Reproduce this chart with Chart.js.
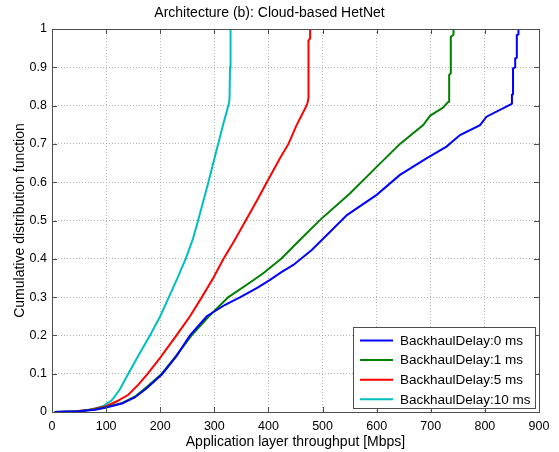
<!DOCTYPE html>
<html>
<head>
<meta charset="utf-8">
<script src="https://cdn.jsdelivr.net/npm/chart.js@4/dist/chart.umd.min.js"></script>
<style>
  html, body { margin: 0; padding: 0; background: #ffffff; }
  #wrap { width: 559px; height: 452px; position: relative; }
</style>
</head>
<body>
<div id="wrap"><canvas id="cdf"></canvas></div>
<script>
// Empirical CDFs of application-layer throughput (Mbps) per backhaul delay
const labels = ['BackhaulDelay:0 ms', 'BackhaulDelay:1 ms', 'BackhaulDelay:5 ms', 'BackhaulDelay:10 ms'];
const colors = ['#0000ff', '#008000', '#ff0000', '#00bfbf'];

const thr0 = [5, 50, 80, 100, 129, 153, 175, 203, 230, 255, 286, 320, 348, 380, 403, 424, 446, 480, 508, 545, 600, 643, 692, 729, 754, 791, 803, 846, 850, 850, 852, 852, 856, 856, 859, 859, 862, 862];
const cdf0 = [0, 0.002, 0.006, 0.012, 0.022, 0.038, 0.062, 0.098, 0.146, 0.20, 0.25, 0.28, 0.30, 0.325, 0.345, 0.365, 0.384, 0.423, 0.462, 0.514, 0.567, 0.619, 0.662, 0.693, 0.723, 0.749, 0.771, 0.802, 0.805, 0.828, 0.83, 0.897, 0.90, 0.923, 0.925, 0.984, 0.986, 1];

const thr1 = [5, 50, 80, 100, 129, 153, 175, 203, 230, 258, 290, 308, 326, 366, 391, 424, 458, 495, 551, 600, 643, 686, 699, 723, 732, 734, 734, 737, 737, 742, 742, 746];
const cdf1 = [0, 0.002, 0.007, 0.013, 0.023, 0.04, 0.065, 0.10, 0.148, 0.20, 0.25, 0.275, 0.30, 0.338, 0.363, 0.401, 0.449, 0.501, 0.571, 0.64, 0.70, 0.749, 0.774, 0.795, 0.809, 0.81, 0.88, 0.885, 0.98, 0.985, 1, 1];

const thr5 = [5, 40, 70, 100, 120, 141, 160, 177, 200, 230, 255, 277, 298, 317, 338, 358, 378, 397, 421, 437, 452, 468, 472, 474, 474, 477, 477, 500];
const cdf5 = [0, 0.001, 0.006, 0.015, 0.028, 0.045, 0.072, 0.10, 0.142, 0.20, 0.25, 0.30, 0.35, 0.40, 0.45, 0.50, 0.55, 0.60, 0.662, 0.70, 0.749, 0.793, 0.806, 0.82, 0.97, 0.975, 1, 1];

const thr10 = [5, 40, 60, 80, 95, 110, 125, 141, 160, 181, 200, 216, 232, 247, 260, 270, 289, 307, 318, 326, 328, 329, 330];
const cdf10 = [0, 0.001, 0.004, 0.009, 0.016, 0.03, 0.058, 0.10, 0.148, 0.20, 0.25, 0.30, 0.35, 0.40, 0.45, 0.50, 0.60, 0.70, 0.76, 0.80, 0.815, 0.90, 1];

const xTicks = [0, 100, 200, 300, 400, 500, 600, 700, 800, 900];
const yTicks = [0, 0.1, 0.2, 0.3, 0.4, 0.5, 0.6, 0.7, 0.8, 0.9, 1];

const series = [[thr0, cdf0], [thr1, cdf1], [thr5, cdf5], [thr10, cdf10]];
const toPoints = (xs, ys) => xs.map((x, i) => ({ x: x, y: ys[i] }));

const FONT = 'Liberation Sans, Arial, Helvetica, sans-serif';
const BOX = '#4d4d4d';

// Full axes box, inward tick marks on all four sides and the in-plot legend
const framePlugin = {
  id: 'frame',
  afterDraw(chart) {
    const { ctx, chartArea: a, scales } = chart;
    const tl = 5;
    ctx.save();
    ctx.strokeStyle = BOX;
    ctx.lineWidth = 1;
    ctx.beginPath();
    scales.x.ticks.forEach(t => {
      const px = Math.round(scales.x.getPixelForValue(t.value)) + 0.5;
      ctx.moveTo(px, a.bottom); ctx.lineTo(px, a.bottom - tl);
      ctx.moveTo(px, a.top); ctx.lineTo(px, a.top + tl);
    });
    scales.y.ticks.forEach(t => {
      const py = Math.round(scales.y.getPixelForValue(t.value)) + 0.5;
      ctx.moveTo(a.left, py); ctx.lineTo(a.left + tl, py);
      ctx.moveTo(a.right, py); ctx.lineTo(a.right - tl, py);
    });
    ctx.stroke();
    ctx.strokeRect(Math.round(a.left) + 0.5, Math.round(a.top) + 0.5,
                   Math.round(a.right - a.left), Math.round(a.bottom - a.top));

    // legend (lower right, inside the axes)
    const lw = 182, rowH = 19.6, lh = 81;
    const lx = a.right - 4 - lw, ly = a.bottom - 4 - lh;
    ctx.fillStyle = '#ffffff';
    ctx.fillRect(lx, ly, lw, lh);
    ctx.strokeStyle = BOX;
    ctx.strokeRect(Math.round(lx) + 0.5, Math.round(ly) + 0.5, lw, lh);
    ctx.font = '13.5px ' + FONT;
    ctx.textBaseline = 'middle';
    ctx.textAlign = 'left';
    chart.data.datasets.forEach((ds, i) => {
      const cy = ly + 13.5 + i * rowH;
      ctx.strokeStyle = ds.borderColor;
      ctx.lineWidth = 2;
      ctx.beginPath();
      ctx.moveTo(lx + 7, cy); ctx.lineTo(lx + 40, cy);
      ctx.stroke();
      ctx.fillStyle = '#000000';
      ctx.fillText(ds.label, lx + 47, cy + 0.5);
    });
    ctx.restore();
  }
};

new Chart(document.getElementById('cdf'), {
  type: 'scatter',
  data: {
    datasets: series.map((s, i) => ({
      label: labels[i],
      data: toPoints(s[0], s[1]),
      showLine: true,
      borderColor: colors[i],
      backgroundColor: colors[i],
      borderWidth: 2,
      pointRadius: 0,
      tension: 0,
      fill: false
    }))
  },
  options: {
    responsive: true,
    maintainAspectRatio: false,
    animation: false,
    devicePixelRatio: 1,
    layout: { padding: { left: 0, right: 20, top: 0, bottom: 0 } },
    plugins: {
      legend: { display: false },
      tooltip: { enabled: false },
      title: {
        display: true,
        text: 'Architecture (b): Cloud-based HetNet',
        color: '#000000',
        font: { family: FONT, size: 14, weight: 'normal' },
        padding: { top: 5, bottom: 7.2 }
      }
    },
    scales: {
      x: {
        type: 'linear',
        min: 0, max: 900,
        afterBuildTicks(scale) { scale.ticks = xTicks.map(v => ({ value: v })); },
        afterFit(scale) { scale.height = 40; },
        ticks: {
          color: '#000000', padding: 7, maxRotation: 0,
          font: { family: FONT, size: 12.5 },
          callback: v => String(v)
        },
        grid: { color: '#b4b4b4', lineWidth: 1, drawTicks: false },
        border: { display: false, dash: [1, 2] },
        title: {
          display: true,
          text: 'Application layer throughput [Mbps]',
          color: '#000000',
          font: { family: FONT, size: 14 },
          padding: { top: 0, bottom: 1.5 }
        }
      },
      y: {
        type: 'linear',
        min: 0, max: 1,
        afterBuildTicks(scale) { scale.ticks = yTicks.map(v => ({ value: v })); },
        afterFit(scale) { scale.width = 52; },
        ticks: {
          color: '#000000', padding: 5,
          font: { family: FONT, size: 12.5 },
          callback: v => String(Math.round(v * 10) / 10)
        },
        grid: { color: '#b4b4b4', lineWidth: 1, drawTicks: false },
        border: { display: false, dash: [1, 2] },
        title: {
          display: true,
          text: 'Cumulative distribution function',
          color: '#000000',
          font: { family: FONT, size: 14 },
          padding: { top: 11.5, bottom: 0 }
        }
      }
    }
  },
  plugins: [framePlugin]
});
</script>
</body>
</html>
